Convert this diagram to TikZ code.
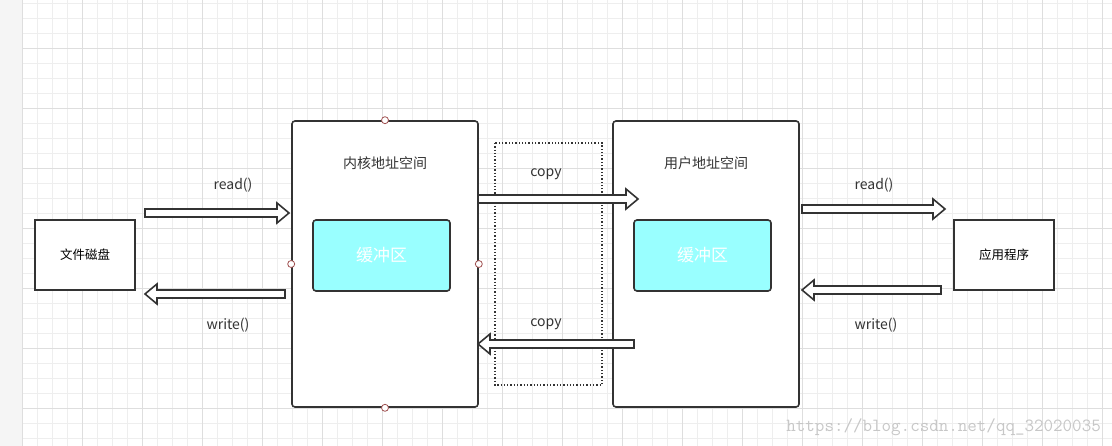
\documentclass[tikz,border=0pt]{standalone}
\usepackage{fontspec}
\setmainfont{Noto Sans CJK SC}
\usetikzlibrary{calc}
\definecolor{gridminor}{RGB}{238,238,238}
\definecolor{gridmajor}{RGB}{222,222,222}
\definecolor{edge}{RGB}{51,51,51}
\definecolor{bufcol}{RGB}{153,255,255}
\definecolor{handle}{RGB}{160,80,80}
\tikzset{
  box/.style={draw=edge,line width=1.6pt,fill=white,inner sep=0,minimum width=100pt,minimum height=70pt,font=\fontsize{12.5pt}{12.5pt}\selectfont},
  space/.style={draw=edge,line width=1.6pt,fill=white,rounded corners=3pt,inner sep=0,minimum width=186pt,minimum height=286pt},
  buffer/.style={draw=edge,line width=1.6pt,fill=bufcol,rounded corners=3pt,inner sep=0,minimum width=137pt,minimum height=71pt,text=white,font=\fontsize{17pt}{17pt}\selectfont},
  lbl/.style={inner sep=0,text=edge,font=\fontsize{14pt}{14pt}\selectfont},
  hnd/.style={circle,draw=handle,fill=white,line width=0.8pt,inner sep=0,minimum size=7pt},
  blk/.style={draw=edge,line width=1.6pt,fill=white,line join=miter}
}
\newcommand\blockarrow[2]{%
  \draw[blk] let \p1=(#1),\p2=(#2),\n1={sign(\x2-\x1)*12pt} in
    (\x1,\y1+4pt) -- (\x2-\n1,\y1+4pt) -- (\x2-\n1,\y1+10pt) -- (\x2,\y1)
    -- (\x2-\n1,\y1-10pt) -- (\x2-\n1,\y1-4pt) -- (\x1,\y1-4pt) -- cycle;}
\begin{document}
\begin{tikzpicture}[x=1pt,y=-1pt]
\useasboundingbox (0,0) rectangle (1112,446);
\fill[white] (0,0) rectangle (1112,446);
\fill[gridminor!60] (0,0) rectangle (22,446);
\foreach \x in {22,37,...,1112} \draw[gridminor,line width=0.8pt] (\x,0) -- (\x,446);
\foreach \y in {3,18,...,446} \draw[gridminor,line width=0.8pt] (22,\y) -- (1112,\y);
\foreach \x in {22,82,...,1112} \draw[gridmajor,line width=0.8pt] (\x,0) -- (\x,446);
\foreach \y in {48,108,...,446} \draw[gridmajor,line width=0.8pt] (22,\y) -- (1112,\y);

\node[box] (disk) at (85,255) {文件磁盘};
\node[box] (app) at (1004,255) {应用程序};
\node[space] (kernel) at (385,264) {};
\node[space] (user) at (706,264) {};
\draw[edge,line width=1.3pt,dash pattern=on 1.3pt off 2pt] (495,143) rectangle (602,385);
\node[lbl] (kt) at (385,163) {内核地址空间};
\node[lbl] (ut) at (706,163) {用户地址空间};
\node[buffer] (kb) at (381.5,255.5) {缓冲区};
\node[buffer] (ub) at (702.5,255.5) {缓冲区};
\node[hnd] (h1) at (kernel.north) {};
\node[hnd] (h2) at (kernel.south) {};
\node[hnd] (h3) at (kernel.west) {};
\node[hnd] (h4) at (kernel.east) {};

\coordinate (a1) at (145,213); \coordinate (b1) at (289,213);
\coordinate (a2) at (285,294); \coordinate (b2) at (145,294);
\coordinate (a3) at (478,199); \coordinate (b3) at (638,199);
\coordinate (a4) at (634,344); \coordinate (b4) at (478,344);
\coordinate (a5) at (802,209); \coordinate (b5) at (945,209);
\coordinate (a6) at (941,290); \coordinate (b6) at (802,290);
\blockarrow{a1}{b1}
\blockarrow{a2}{b2}
\blockarrow{a3}{b3}
\blockarrow{a4}{b4}
\blockarrow{a5}{b5}
\blockarrow{a6}{b6}
\node[lbl] at (233,185) {read()};
\node[lbl] at (228,325) {write()};
\node[lbl] at (546,174) {copy};
\node[lbl] at (546,324) {copy};
\node[lbl] at (874,185) {read()};
\node[lbl] at (876,325) {write()};
\node[inner sep=0,text=black!22,font=\ttfamily\fontsize{18.5pt}{18.5pt}\selectfont,anchor=east] at (1101,427) {https://blog.csdn.net/qq\_32020035};
\end{tikzpicture}
\end{document}
